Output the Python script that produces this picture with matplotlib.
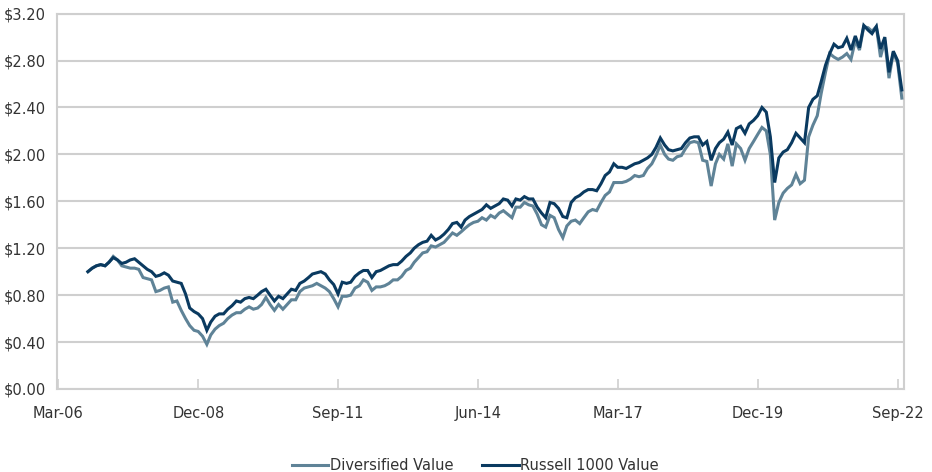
import matplotlib
matplotlib.use("Agg")
import matplotlib.pyplot as plt
import matplotlib.dates as mdates
import pandas as pd

# growth of $1, month-end values from Sep-2006 to Sep-2022
months = pd.date_range("2006-09-30", "2022-09-30", freq="ME")

diversified = [
    1.00, 1.03, 1.05, 1.06, 1.05, 1.08, 1.13, 1.10, 1.05, 1.04,
    1.03, 1.03, 1.02, 0.95, 0.94, 0.93, 0.83, 0.84, 0.86, 0.87,
    0.74, 0.75, 0.67, 0.60, 0.54, 0.50, 0.49, 0.45, 0.38, 0.46,
    0.51, 0.54, 0.56, 0.60, 0.63, 0.65, 0.65, 0.68, 0.70, 0.68,
    0.69, 0.72, 0.78, 0.72, 0.67, 0.72, 0.68, 0.72, 0.76, 0.76,
    0.83, 0.86, 0.87, 0.88, 0.90, 0.88, 0.86, 0.83, 0.77, 0.70,
    0.79, 0.79, 0.80, 0.86, 0.88, 0.93, 0.91, 0.84, 0.87, 0.87,
    0.88, 0.90, 0.93, 0.93, 0.96, 1.01, 1.03, 1.08, 1.12, 1.16,
    1.17, 1.22, 1.21, 1.23, 1.25, 1.29, 1.33, 1.31, 1.34, 1.37,
    1.40, 1.42, 1.43, 1.46, 1.44, 1.48, 1.46, 1.50, 1.52, 1.49,
    1.46, 1.55, 1.55, 1.59, 1.57, 1.56, 1.49, 1.40, 1.38, 1.48,
    1.46, 1.36, 1.29, 1.39, 1.43, 1.44, 1.41, 1.46, 1.51, 1.53,
    1.52, 1.59, 1.65, 1.68, 1.76, 1.76, 1.76, 1.77, 1.79, 1.82,
    1.81, 1.82, 1.88, 1.92, 1.99, 2.08, 2.00, 1.96, 1.95, 1.98,
    1.99, 2.05, 2.10, 2.11, 2.10, 1.95, 1.94, 1.73, 1.92, 2.00,
    1.96, 2.09, 1.90, 2.09, 2.05, 1.95, 2.05, 2.11, 2.17, 2.23,
    2.20, 2.00, 1.44, 1.59, 1.67, 1.71, 1.74, 1.83, 1.75, 1.78,
    2.15, 2.25, 2.33, 2.52, 2.70, 2.86, 2.83, 2.81, 2.83, 2.86,
    2.81, 2.97, 2.89, 3.09, 3.08, 3.05, 3.09, 2.83, 2.97, 2.65,
    2.87, 2.78, 2.48,
]

russell = [
    1.00, 1.03, 1.05, 1.06, 1.05, 1.08, 1.12, 1.10, 1.07, 1.08,
    1.10, 1.11, 1.08, 1.05, 1.02, 1.00, 0.96, 0.97, 0.99, 0.97,
    0.92, 0.91, 0.90, 0.81, 0.69, 0.66, 0.64, 0.60, 0.50, 0.57,
    0.62, 0.64, 0.64, 0.68, 0.71, 0.75, 0.74, 0.77, 0.78, 0.77,
    0.80, 0.83, 0.85, 0.80, 0.75, 0.79, 0.77, 0.81, 0.85, 0.84,
    0.90, 0.92, 0.95, 0.98, 0.99, 1.00, 0.98, 0.93, 0.89, 0.81,
    0.91, 0.90, 0.91, 0.96, 0.99, 1.01, 1.01, 0.95, 1.00, 1.01,
    1.03, 1.05, 1.06, 1.06, 1.09, 1.13, 1.16, 1.20, 1.23, 1.25,
    1.26, 1.31, 1.27, 1.29, 1.32, 1.36, 1.41, 1.42, 1.38, 1.44,
    1.47, 1.49, 1.51, 1.53, 1.57, 1.54, 1.56, 1.58, 1.62, 1.61,
    1.56, 1.62, 1.61, 1.64, 1.62, 1.62, 1.55, 1.50, 1.46, 1.59,
    1.58, 1.54, 1.47, 1.46, 1.59, 1.63, 1.65, 1.68, 1.70, 1.70,
    1.69, 1.75, 1.82, 1.85, 1.92, 1.89, 1.89, 1.88, 1.90, 1.92,
    1.93, 1.95, 1.97, 2.00, 2.06, 2.14, 2.08, 2.04, 2.03, 2.04,
    2.05, 2.10, 2.14, 2.15, 2.15, 2.08, 2.11, 1.95, 2.05, 2.10,
    2.13, 2.19, 2.08, 2.22, 2.24, 2.18, 2.26, 2.29, 2.33, 2.40,
    2.36, 2.15, 1.76, 1.97, 2.02, 2.04, 2.10, 2.18, 2.14, 2.10,
    2.40, 2.47, 2.50, 2.62, 2.76, 2.86, 2.94, 2.91, 2.92, 2.99,
    2.89, 3.01, 2.91, 3.10, 3.06, 3.03, 3.09, 2.90, 3.00, 2.70,
    2.88, 2.80, 2.55,
]

tick_dates = pd.date_range("2006-03-01", periods=7, freq="33MS")
y_ticks = [0.0, 0.4, 0.8, 1.2, 1.6, 2.0, 2.4, 2.8, 3.2]

light = "#5f8397"
dark = "#0a3a60"
grid_col = "#cfcfcf"
text_col = "#333333"

fig = plt.figure(figsize=(9.32, 4.72), dpi=100)
ax = fig.add_axes([0.061, 0.176, 0.909, 0.795])

ax.plot(months, diversified, color=light, lw=2.2, label="Diversified Value",
        solid_joinstyle="miter", zorder=3)
ax.plot(months, russell, color=dark, lw=2.2, label="Russell 1000 Value",
        solid_joinstyle="miter", zorder=4)

ax.set_ylim(0, 3.2)
ax.set_yticks(y_ticks)
ax.set_yticklabels(["$%.2f" % v for v in y_ticks])
ax.set_xlim(pd.Timestamp("2006-02-19"), pd.Timestamp("2022-10-16"))
ax.set_xticks(tick_dates)
ax.xaxis.set_major_formatter(mdates.DateFormatter("%b-%y"))

ax.grid(axis="y", color=grid_col, lw=1.5, zorder=0)
for s in ax.spines.values():
    s.set_color(grid_col)
    s.set_linewidth(1.5)

ax.tick_params(axis="y", length=0, pad=8, labelsize=10.5, labelcolor=text_col)
ax.tick_params(axis="x", direction="in", length=7, width=1.2, color=grid_col,
               pad=12, labelsize=10.5, labelcolor=text_col)

fig.legend(loc="lower center", bbox_to_anchor=(0.51, -0.03), ncol=2,
           frameon=False, fontsize=10.5, handlelength=2.5, handletextpad=0.1,
           columnspacing=2.0, labelcolor=text_col)

fig.savefig("out.png", dpi=100)
